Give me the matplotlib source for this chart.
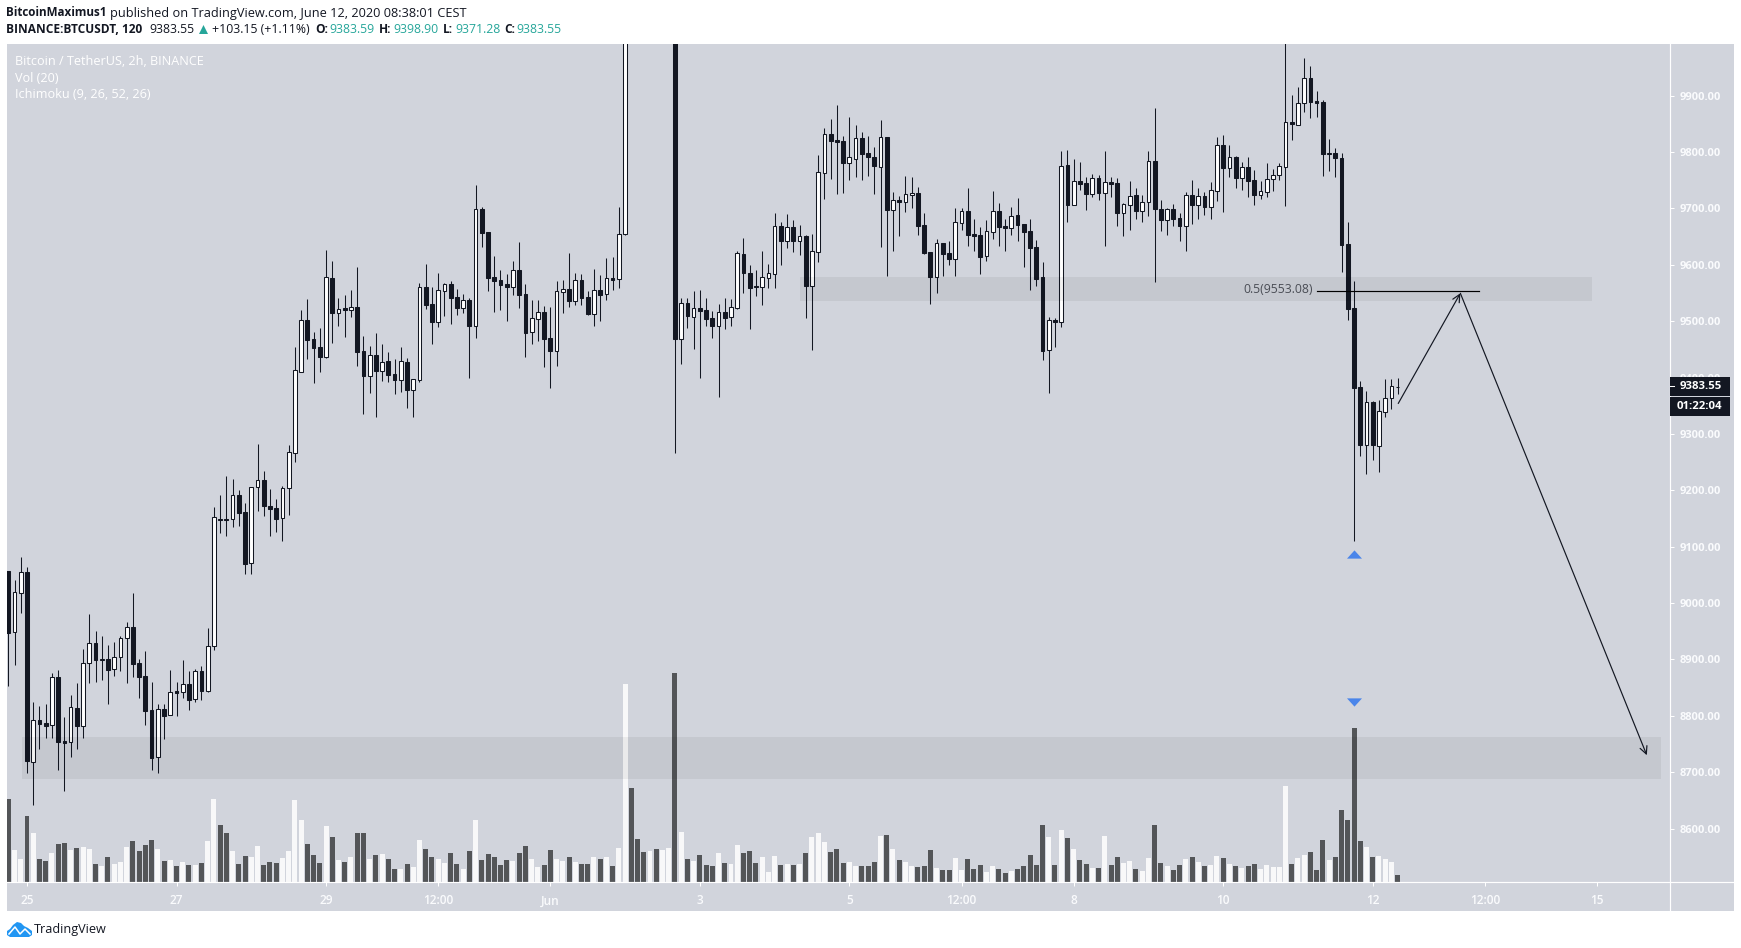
import matplotlib
matplotlib.use("Agg")
import matplotlib.pyplot as plt
from matplotlib.patches import Rectangle, Polygon
from matplotlib.lines import Line2D
from matplotlib.path import Path

plt.rcParams['font.family'] = ['Open Sans', 'DejaVu Sans']

# ---- candle data (prices, USDT); body_top / body_bottom are the two body edges ----
body_top = [
9056.9,9019.0,9054.5,9055.1,8792.0,8792.6,8787.2,8868.2,8868.8,8755.3,
8815.0,8813.8,8893.1,8928.6,8929.1,8900.8,8900.8,8903.7,8937.4,8956.9,
8957.5,8893.7,8870.6,8810.3,8811.5,8812.1,8841.6,8844.0,8855.8,8856.4,
8878.9,8879.5,8923.2,9152.1,9149.7,9149.7,9191.1,9191.7,9161.5,9205.3,
9217.7,9218.3,9172.2,9168.6,9203.5,9267.4,9412.9,9501.6,9502.2,9468.4,
9454.2,9577.8,9576.7,9522.3,9523.4,9524.6,9525.2,9447.2,9439.5,9440.1,
9427.0,9429.4,9406.4,9428.8,9427.6,9396.9,9560.1,9560.7,9530.5,9554.8,
9565.4,9566.0,9543.0,9537.0,9537.6,9698.4,9699.0,9658.2,9578.4,9573.1,
9566.0,9590.3,9590.8,9548.3,9505.1,9515.8,9516.3,9470.2,9553.0,9556.6,
9557.1,9572.5,9573.1,9543.0,9554.8,9555.4,9576.0,9576.0,9654.0,10125,
10125,10060,10030,10060,10060,10090,10190,10190,9531.7,9532.3,
9522.8,9522.8,9519.8,9505.6,9515.7,9516.3,9525.2,9620.4,9619.2,9585.5,
9562.4,9577.8,9584.9,9668.3,9668.9,9666.5,9667.1,9650.5,9651.1,9623.9,
9764.0,9831.5,9832.1,9821.4,9819.6,9790.7,9824.4,9825.0,9798.4,9791.3,
9826.1,9826.7,9714.4,9715.0,9725.0,9726.8,9727.4,9670.6,9622.7,9638.1,
9638.7,9620.9,9675.4,9694.9,9695.5,9654.7,9652.9,9659.4,9694.9,9695.5,
9668.9,9686.0,9688.4,9672.4,9660.0,9631.6,9578.4,9501.5,9502.1,9774.7,
9777.1,9748.1,9748.7,9745.1,9753.4,9754.0,9746.3,9746.3,9745.1,9707.9,
9721.5,9723.8,9710.8,9783.6,9784.2,9699.0,9699.0,9699.0,9683.0,9723.2,
9723.8,9721.5,9722.1,9732.1,9812.0,9812.5,9790.7,9791.3,9772.9,9773.5,
9750.5,9730.3,9751.6,9758.7,9774.7,9852.8,9852.8,9886.5,9930.8,9931.4,
9890.0,9888.8,9797.8,9798.4,9789.5,9636.9,9523.4,9382.7,9356.0,9356.6,
9340.1,9364.3,9384.4,9383.59]

body_bottom = [
8947.5,8948.1,9017.2,8719.8,8717.5,8786.1,8782.5,8783.1,8754.1,8752.3,
8752.9,8782.5,8781.3,8893.1,8899.6,8899.6,8881.8,8882.4,8903.7,8937.4,
8892.5,8869.4,8809.1,8725.7,8726.3,8800.2,8800.8,8841.0,8841.6,8828.6,
8829.2,8844.6,8844.6,8923.2,9147.9,9147.9,9148.5,9160.3,9069.9,9070.5,
9205.3,9172.8,9166.8,9149.7,9150.3,9203.5,9266.8,9410.5,9466.7,9452.5,
9436.5,9437.1,9514.6,9515.2,9519.9,9520.5,9445.4,9402.8,9403.4,9411.7,
9412.3,9404.6,9395.7,9396.3,9378.0,9378.6,9396.3,9528.8,9498.6,9499.2,
9554.2,9541.2,9523.4,9524.0,9491.5,9492.1,9656.5,9576.7,9571.3,9564.2,
9560.7,9561.3,9546.5,9479.1,9481.5,9504.5,9468.4,9447.2,9447.8,9552.4,
9535.9,9536.4,9541.2,9512.8,9513.4,9546.5,9548.8,9573.6,9574.2,9654.0,
10060,10020,10005,10030,10040,10050,10090,9468.4,9469.0,9509.2,
9508.0,9518.7,9503.9,9491.5,9492.1,9505.6,9508.0,9524.0,9585.5,9558.9,
9561.2,9561.2,9577.2,9584.3,9642.3,9642.8,9642.3,9642.8,9562.4,9563.0,
9623.3,9763.5,9819.6,9817.9,9780.6,9781.2,9788.3,9796.6,9791.3,9775.3,
9774.1,9697.2,9697.8,9711.4,9712.0,9723.8,9668.9,9620.9,9578.4,9579.0,
9619.2,9610.3,9610.9,9674.8,9652.9,9651.1,9613.9,9615.6,9658.8,9667.1,
9665.3,9665.9,9670.6,9658.2,9629.8,9574.8,9447.1,9449.5,9498.6,9499.2,
9706.1,9706.7,9743.4,9725.6,9726.2,9727.4,9728.0,9743.4,9691.9,9692.5,
9706.7,9695.5,9696.1,9712.0,9699.0,9679.5,9680.1,9681.3,9668.9,9669.5,
9706.1,9706.7,9702.6,9703.2,9731.5,9771.7,9772.3,9754.0,9754.6,9748.7,
9723.8,9723.8,9729.8,9751.6,9758.7,9774.1,9849.2,9848.6,9886.5,9888.8,
9887.6,9796.6,9796.6,9789.5,9635.2,9521.6,9381.5,9280.4,9281.0,9280.4,
9279.2,9339.5,9364.3,9383.55]

high = [
9056.9,9040.9,9081.7,9064.0,8823.9,8817.4,8820.9,8875.3,8880.6,8797.9,
8836.9,8857.6,8918.5,8980.0,8950.4,8941.6,8925.6,8930.9,8941.6,8966.4,
9017.8,8900.8,8914.4,8860.0,8820.9,8820.9,8880.6,8860.0,8899.0,8879.5,
8883.0,8888.3,8955.8,9170.4,9191.7,9225.4,9220.1,9200.5,9177.5,9205.3,
9282.1,9234.3,9202.3,9184.6,9207.6,9280.4,9454.2,9519.9,9538.8,9480.9,
9488.0,9626.3,9606.8,9540.6,9546.5,9555.4,9596.2,9473.8,9456.0,9479.1,
9459.6,9445.4,9433.0,9454.2,9434.7,9396.9,9567.8,9601.5,9560.7,9585.5,
9567.8,9571.3,9557.2,9548.3,9541.2,9741.6,9702.6,9658.2,9615.7,9590.8,
9583.7,9606.8,9640.5,9566.0,9537.6,9537.6,9527.0,9525.2,9571.3,9573.1,
9621.0,9585.5,9583.7,9553.6,9592.6,9582.0,9611.5,9613.9,9702.6,10135,
10150,10075,10040,10070,10075,10100,10200,10205,9541.1,9541.1,
9553.5,9555.3,9541.1,9518.1,9529.9,9541.1,9539.4,9624.5,9647.6,9599.7,
9590.8,9624.5,9601.4,9691.9,9676.0,9690.1,9679.5,9670.6,9652.9,9654.7,
9794.8,9842.7,9858.7,9883.5,9828.5,9862.2,9848.0,9835.6,9828.5,9809.0,
9856.9,9826.7,9729.2,9722.1,9757.6,9755.8,9738.0,9691.9,9622.7,9645.8,
9638.7,9642.2,9700.8,9700.8,9736.3,9681.3,9667.1,9679.5,9730.9,9709.7,
9681.3,9702.6,9718.5,9672.4,9681.3,9644.0,9605.0,9507.4,9505.6,9801.9,
9803.7,9787.7,9782.4,9755.8,9761.1,9759.3,9801.9,9755.8,9754.0,9709.7,
9748.7,9736.3,9723.8,9801.9,9878.2,9715.0,9700.8,9707.9,9691.9,9729.2,
9750.5,9736.3,9729.2,9746.9,9826.7,9830.3,9812.5,9793.0,9782.4,9791.3,
9768.2,9748.7,9780.6,9770.0,9780.6,10020,9901.2,9915.4,9966.9,9952.7,
9908.3,9892.4,9823.2,9807.2,9798.4,9675.9,9571.3,9393.9,9376.2,9358.4,
9360.2,9397.5,9397.5,9398.90]

low = [
8853.5,8890.1,8982.4,8699.1,8642.4,8741.1,8760.6,8760.6,8704.4,8667.2,
8726.9,8741.1,8761.2,8858.2,8860.0,8863.5,8820.9,8870.6,8879.5,8858.2,
8868.8,8831.6,8783.7,8703.8,8699.1,8758.8,8800.8,8799.7,8831.6,8810.3,
8825.1,8828.0,8842.2,8917.3,9124.3,9118.9,9134.9,9136.7,9051.6,9051.6,
9163.3,9154.4,9118.9,9126.0,9110.1,9156.2,9250.3,9410.5,9433.0,9390.4,
9409.9,9434.7,9461.4,9491.5,9472.0,9507.5,9420.6,9335.4,9372.6,9330.1,
9393.9,9392.2,9370.9,9374.4,9346.0,9330.1,9392.2,9521.7,9459.6,9489.7,
9509.2,9495.0,9511.0,9514.6,9399.3,9470.2,9631.6,9553.6,9516.3,9519.9,
9500.4,9546.5,9523.4,9436.5,9459.6,9464.9,9418.8,9381.5,9420.6,9514.6,
9525.2,9528.8,9528.8,9511.0,9491.5,9500.4,9537.6,9555.3,9558.9,9652.0,
10040,10010,9998,10020,10030,10040,10080,9266.2,9424.1,9487.9,
9450.7,9399.2,9491.5,9470.2,9365.5,9486.1,9491.5,9521.6,9550.0,9486.1,
9544.7,9528.7,9558.9,9558.9,9599.7,9629.8,9622.7,9617.4,9505.6,9448.9,
9605.0,9716.8,9752.2,9725.6,9727.4,9750.5,9755.8,9750.5,9757.6,9725.6,
9631.6,9580.1,9624.5,9651.1,9693.7,9700.8,9652.9,9619.2,9530.5,9550.0,
9580.1,9599.7,9580.1,9661.2,9633.4,9624.5,9583.7,9606.8,9645.8,9633.4,
9624.5,9652.9,9642.2,9596.1,9555.3,9562.4,9431.2,9372.6,9454.2,9489.7,
9675.9,9706.1,9732.7,9697.2,9720.3,9715.0,9633.4,9720.3,9668.9,9651.1,
9661.8,9681.3,9675.9,9686.6,9569.5,9660.0,9652.9,9668.9,9642.2,9624.5,
9672.4,9681.3,9688.4,9681.3,9713.2,9693.7,9755.8,9736.3,9732.7,9720.3,
9706.1,9716.8,9720.3,9730.9,9750.5,9704.3,9821.4,9847.4,9871.1,9860.4,
9862.2,9757.6,9766.4,9755.8,9587.3,9502.1,9110.0,9260.9,9228.9,9253.8,
9232.5,9330.0,9344.2,9371.28]

# relative volume readings
volume = [
249,96,69,198,147,69,63,87,114,117,96,102,105,99,54,48,75,54,60,105,
123,93,111,126,99,63,66,48,60,51,51,57,123,249,171,147,93,54,78,75,
108,51,60,57,72,93,246,186,114,81,57,168,135,66,60,75,147,147,69,81,
84,69,39,39,54,45,126,99,75,69,57,87,54,39,93,186,66,84,75,51,
66,63,87,108,69,45,51,96,69,63,75,60,54,54,75,69,75,48,102,594,
282,129,90,93,99,96,102,627,150,69,63,81,51,48,87,57,54,111,87,93,
57,75,30,78,51,54,51,54,87,135,147,120,90,99,57,60,48,48,48,60,
138,141,99,66,60,48,45,48,96,42,36,36,72,36,69,39,51,30,48,39,
27,33,39,48,81,51,171,135,51,156,132,99,66,54,42,42,138,51,75,57,
63,39,33,72,171,57,48,36,51,69,75,60,48,51,78,72,54,48,42,48,
54,39,51,45,45,288,54,72,81,90,36,126,66,75,216,186,462,123,105,75,
78,69,60,21]

# 1 = volume bar and candle rising, 0 = falling
rising = [
0,1,1,0,1,0,0,1,0,0,1,0,1,1,0,1,0,1,1,1,
0,0,0,0,1,0,1,0,1,0,1,0,1,1,0,0,1,0,0,1,
1,0,0,0,1,1,1,1,0,0,0,1,0,1,0,1,0,0,1,0,
1,0,0,1,0,1,1,0,0,1,1,0,0,1,0,1,0,0,0,0,
0,1,0,0,1,1,0,0,1,1,0,1,0,0,1,0,1,0,1,1,
0,0,0,1,0,1,1,0,1,0,1,0,0,0,1,0,1,1,0,0,
0,1,1,1,0,1,0,1,0,1,1,1,0,0,0,1,1,0,0,0,
1,0,1,0,1,1,0,0,0,1,0,0,1,1,0,0,0,1,1,0,
0,1,0,0,0,0,0,1,0,1,0,1,0,0,1,0,1,0,0,1,
1,0,1,1,0,0,1,0,0,1,0,1,0,1,1,0,1,0,1,0,
0,1,1,1,1,1,0,1,1,0,0,0,1,0,0,0,0,0,1,0,
1,1,1,0]

price_ticks = [8600,8700,8800,8900,9000,9100,9200,9300,9400,9500,9600,9700,9800,9900]
date_ticks = [3,27,51,69,87,111,135,153,171,195,219,237,255]
date_labels = ['25','27','29','12:00','Jun','3','5','12:00','8','10','12','12:00','15']

zone_upper = (127.1, 254.2, 9535, 9579)
zone_lower = (2.15, 265.2, 8687, 8762)
fib_level = 9553.08
fib_span = (210.0, 236.0)
arrow_path_x = [223.1, 233.07, 263.0]
arrow_path_y = [9354, 9549.5, 8730]
signal_bar = 216
signal_up_price = 9087
signal_down_price = 8824

W, H = 1741, 948
BG = '#d1d4dc'
INK = '#131722'
AXC = '#fafbfd'
TEAL = '#26a69a'
BLUE = '#4a85ea'

def fx(x): return x / W
def fy(y): return 1 - y / H

fig = plt.figure(figsize=(W / 100, H / 100), dpi=100, facecolor='white')
fig.add_artist(Rectangle((fx(7), fy(910.7)), (1734 - 7) / W, (910.7 - 44) / H,
                         transform=fig.transFigure, fc=BG, ec='none', zorder=-5))

rect = [fx(7), fy(882), (1670 - 7) / W, (882 - 44) / H]
ax_vol = fig.add_axes(rect, facecolor='none')
ax = fig.add_axes(rect, facecolor='none')

xlim = (-0.209, 266.72)
x = list(range(len(body_top)))

# volume
ax_vol.set_xlim(*xlim)
ax_vol.set_ylim(0, 2514)
ax_vol.axis('off')
for i, v in enumerate(volume):
    if rising[i]:
        ax_vol.bar(i, v, width=0.8, color='white', alpha=0.85, linewidth=0)
    else:
        ax_vol.bar(i, v, width=0.8, color='black', alpha=0.6, linewidth=0)

# candles
ax.set_xlim(*xlim)
ax.set_ylim(8505.1, 9991.7)
ax.vlines(x, low, high, color=INK, linewidth=0.75, zorder=2)
for i in x:
    t_, b_ = body_top[i], body_bottom[i]
    ax.add_patch(Rectangle((i - 0.3, b_), 0.6, t_ - b_,
                           fc='white' if rising[i] else INK, ec=INK, lw=0.75, zorder=3))

# zones
for a, b, lo, hi in (zone_upper, zone_lower):
    ax.add_patch(Rectangle((a, lo), b - a, hi - lo, fc='black', ec='none', alpha=0.055, zorder=5))

# fib level
ax.plot(fib_span, [fib_level, fib_level], color='black', lw=0.85, zorder=6)
fig.text(fx(1313), fy(290), '0.5(9553.08)', ha='right', va='center', fontsize=8.8, color='#4a4d55')

# drawn path and arrows
kw = dict(arrowstyle='->,head_length=0.45,head_width=0.22', color=INK, lw=0.85,
          shrinkA=0, shrinkB=0, mutation_scale=12)
ax.annotate('', xy=(arrow_path_x[1], arrow_path_y[1]), xytext=(arrow_path_x[0], arrow_path_y[0]),
            arrowprops=kw, zorder=7)
ax.annotate('', xy=(arrow_path_x[2], arrow_path_y[2]), xytext=(arrow_path_x[1], arrow_path_y[1]),
            arrowprops=kw, zorder=7)

# signal triangles
tri_up = Path([(-1, -0.55), (1, -0.55), (0, 0.55), (-1, -0.55)])
tri_dn = Path([(-1, 0.55), (1, 0.55), (0, -0.55), (-1, 0.55)])
ax.scatter([signal_bar], [signal_up_price], marker=tri_up, s=(15 * 0.72) ** 2, color=BLUE, linewidth=0, zorder=8)
ax.scatter([signal_bar], [signal_down_price], marker=tri_dn, s=(15 * 0.72) ** 2, color=BLUE, linewidth=0, zorder=8)

# axes
for s in ('top', 'left'):
    ax.spines[s].set_visible(False)
for s in ('right', 'bottom'):
    ax.spines[s].set_color('white')
    ax.spines[s].set_linewidth(0.85)
ax.yaxis.tick_right()
ax.set_yticks(price_ticks)
ax.set_yticklabels([f'{p:.2f}' for p in price_ticks], fontsize=8.0, color=AXC, fontweight='bold')
ax.tick_params(axis='y', length=3, width=0.75, color='white', pad=4)
ax.set_xticks(date_ticks)
ax.set_xticklabels(date_labels, fontsize=8.6, color=AXC, fontweight='semibold')
ax.tick_params(axis='x', length=3, width=0.75, color='white', pad=6)
fig.add_artist(Line2D([fx(1670), fx(1734)], [fy(882), fy(882)], color='white', lw=0.85))
fig.add_artist(Line2D([fx(1670), fx(1670)], [fy(882), fy(910.7)], color='white', lw=0.85))

# price tags
for y0, y1, txt in ((377, 395.7, '9383.55'), (396.7, 416, '01:22:04')):
    fig.add_artist(Rectangle((fx(1670), fy(y1)), 60 / W, (y1 - y0) / H, transform=fig.transFigure,
                             fc=INK, ec='none', zorder=20))
    fig.text(fx(1722), fy((y0 + y1) / 2), txt, ha='right', va='center', fontsize=8.2,
             color='white', fontweight='bold', zorder=21)
fig.add_artist(Line2D([fx(1670), fx(1674)], [fy(386), fy(386)], color='white', lw=0.75, zorder=22))

# header
def t(px, py, s, **k):
    k.setdefault('fontsize', 8.85)
    k.setdefault('color', INK)
    fig.text(fx(px), fy(py), s, ha='left', va='center', **k)

t(6, 13, 'BitcoinMaximus1', fontweight='bold', fontsize=8.4)
t(110, 13, 'published on TradingView.com, June 12, 2020 08:38:01 CEST', fontsize=9.2)
t(6, 29.5, 'BINANCE:BTCUSDT, 120', fontweight='bold', fontsize=8.6)
t(149, 29.5, '9383.55')
fig.add_artist(Polygon([(fx(199), fy(34)), (fx(208), fy(34)), (fx(203.5), fy(25))], closed=True,
                       transform=fig.transFigure, fc=TEAL, ec='none'))
t(212, 29.5, '+103.15 (+1.11%)')
for lx, lab, vx, val in ((315, 'O:', 329, '9383.59'), (379, 'H:', 393, '9398.90'),
                         (443, 'L:', 455.4, '9371.28'), (504, 'C:', 516.6, '9383.55')):
    t(lx, 29.5, lab, fontweight='bold', fontsize=8.6)
    t(vx, 29.5, val, color=TEAL)

# legend lines on the pane
for py, s in ((61.5, 'Bitcoin / TetherUS, 2h, BINANCE'), (78, 'Vol (20)'), (95, 'Ichimoku (9, 26, 52, 26)')):
    t(15, py, s, color='white', fontsize=9.1)

# logo
logo = [(7, 935), (7, 931), (10, 929), (13, 925), (17, 922), (21, 923), (24, 926),
        (28, 928), (32, 931), (32, 935), (29, 937), (10, 937)]
fig.add_artist(Polygon([(fx(a), fy(b)) for a, b in logo], closed=True, transform=fig.transFigure,
                       fc='#2196f3', ec='none'))
fig.add_artist(Line2D([fx(a) for a in (9, 15, 20, 25, 30)], [fy(b) for b in (934, 927, 934, 929, 934)],
                      color='white', lw=1.1))
t(34, 930, 'TradingView', fontsize=9.1)

fig.savefig('out.png', dpi=100, facecolor='white')
